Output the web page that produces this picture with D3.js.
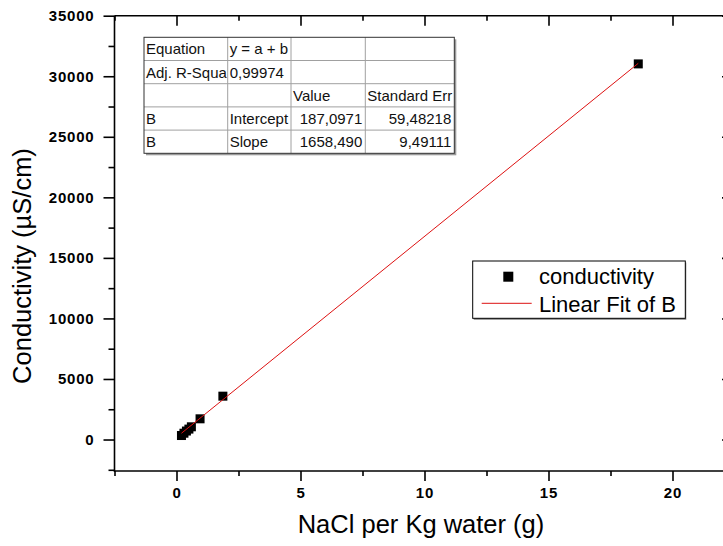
<!DOCTYPE html>
<html>
<head>
<meta charset="utf-8">
<script src="https://cdn.jsdelivr.net/npm/d3@7"></script>
<style>
  html, body { margin: 0; padding: 0; background: #fff; }
  svg { display: block; }
</style>
</head>
<body>
<svg id="chart" width="723" height="546"></svg>
<script>
// Measured NaCl concentration vs. conductivity
const naclGrams   = [0.2, 0.3, 0.4, 0.5, 0.6, 0.95, 1.87, 18.62];
const conductance = [330, 520, 700, 860, 1050, 1710, 3580, 31020];

// Linear fit parameters (y = a + b*x)
const fitIntercept = 187.0971;
const fitSlope = 1658.490;

// Axis ticks
const xMajorTicks = [0, 5, 10, 15, 20];
const xMinorTicks = [-2.5, 2.5, 7.5, 12.5, 17.5, 22.5];
const yMajorTicks = [0, 5000, 10000, 15000, 20000, 25000, 30000, 35000];
const yMinorTicks = [-2500, 2500, 7500, 12500, 17500, 22500, 27500, 32500];

// Fit summary table
const tableRows = [
  ["Equation", "y = a + b", "", ""],
  ["Adj. R-Squa", "0,99974", "", ""],
  ["", "", "Value", "Standard Err"],
  ["B", "Intercept", "187,0971", "59,48218"],
  ["B", "Slope", "1658,490", "9,49111"]
];
const tableAlign = [
  ["start", "start", "start", "start"],
  ["start", "start", "start", "start"],
  ["start", "start", "start", "start"],
  ["start", "start", "end", "end"],
  ["start", "start", "end", "end"]
];

const legendLabels = ["conductivity", "Linear Fit of B"];

const svg = d3.select("#chart");

const plot = { left: 114.5, right: 734.5, top: 15.7, bottom: 471 };

const x = d3.scaleLinear().domain([-2.5, 22.5]).range([plot.left, plot.right]);
const y = d3.scaleLinear().domain([-2600, 35000]).range([plot.bottom, plot.top]);

const fontSans = "'Liberation Sans', Arial, sans-serif";
const axisStroke = 1.6;

// ---- axes ----
function styleAxis(g) {
  g.select(".domain").remove();
  g.selectAll("line").attr("stroke", "#000").attr("stroke-width", axisStroke);
}

// bottom
const gBottom = svg.append("g").attr("transform", `translate(0,${plot.bottom})`);
gBottom.call(d3.axisBottom(x).tickValues(xMajorTicks).tickSize(10).tickPadding(6).tickFormat(d3.format("d")))
  .call(styleAxis);
gBottom.selectAll("text")
  .attr("font-family", fontSans).attr("font-weight", "bold").attr("font-size", 15)
  .attr("letter-spacing", "0.8px").attr("fill", "#000");
svg.append("g").attr("transform", `translate(0,${plot.bottom})`)
  .call(d3.axisBottom(x).tickValues(xMinorTicks).tickSize(5).tickFormat(""))
  .call(styleAxis);

// top (mirror, inward ticks)
svg.append("g").attr("transform", `translate(0,${plot.top})`)
  .call(d3.axisBottom(x).tickValues(xMajorTicks).tickSize(10).tickFormat(""))
  .call(styleAxis);
svg.append("g").attr("transform", `translate(0,${plot.top})`)
  .call(d3.axisBottom(x).tickValues(xMinorTicks).tickSize(5).tickFormat(""))
  .call(styleAxis);

// left
const gLeft = svg.append("g").attr("transform", `translate(${plot.left},0)`);
gLeft.call(d3.axisLeft(y).tickValues(yMajorTicks).tickSize(11).tickPadding(9).tickFormat(d3.format("d")))
  .call(styleAxis);
gLeft.selectAll("text")
  .attr("font-family", fontSans).attr("font-weight", "bold").attr("font-size", 15)
  .attr("letter-spacing", "0.8px").attr("fill", "#000");
svg.append("g").attr("transform", `translate(${plot.left},0)`)
  .call(d3.axisLeft(y).tickValues(yMinorTicks).tickSize(6).tickFormat(""))
  .call(styleAxis);

// right (mirror, inward ticks)
svg.append("g").attr("transform", `translate(${plot.right},0)`)
  .call(d3.axisLeft(y).tickValues(yMajorTicks).tickSize(12.5).tickFormat(""))
  .call(styleAxis);

// frame lines
const frame = svg.append("g").attr("stroke", "#000").attr("stroke-width", axisStroke);
frame.append("line").attr("x1", plot.left).attr("x2", plot.right).attr("y1", plot.bottom).attr("y2", plot.bottom);
frame.append("line").attr("x1", plot.left).attr("x2", plot.right).attr("y1", plot.top).attr("y2", plot.top);
frame.append("line").attr("x1", plot.left).attr("x2", plot.left).attr("y1", plot.top).attr("y2", plot.bottom + 1);
frame.append("line").attr("x1", plot.right).attr("x2", plot.right).attr("y1", plot.top).attr("y2", plot.bottom);

// axis titles
svg.append("text")
  .attr("x", 421).attr("y", 533)
  .attr("text-anchor", "middle")
  .attr("font-family", fontSans).attr("font-size", 25.5)
  .text("NaCl per Kg water (g)");

svg.append("text")
  .attr("transform", `translate(31,${266}) rotate(-90)`)
  .attr("text-anchor", "middle")
  .attr("font-family", fontSans).attr("font-size", 25.5)
  .text("Conductivity (µS/cm)");

// ---- data points ----
const sq = 9;
svg.append("g").selectAll("rect")
  .data(naclGrams.map((v, i) => [v, conductance[i]]))
  .join("rect")
  .attr("x", d => x(d[0]) - sq / 2)
  .attr("y", d => y(d[1]) - sq / 2)
  .attr("width", sq).attr("height", sq)
  .attr("fill", "#000");

// ---- fit line, drawn over markers ----
const xExt = d3.extent(naclGrams);
svg.append("line")
  .attr("x1", x(xExt[0])).attr("y1", y(fitIntercept + fitSlope * xExt[0]))
  .attr("x2", x(xExt[1])).attr("y2", y(fitIntercept + fitSlope * xExt[1]))
  .attr("stroke", "#dd1111").attr("stroke-width", 1);

// ---- fit summary table ----
const colX = [144, 227.7, 291, 365.3, 454.3];
const rowY0 = 37.3, rowH = 23.2;
const tbl = svg.append("g");
const tW = colX[colX.length - 1] - colX[0];
const tH = rowH * tableRows.length;
// shadow
tbl.append("rect").attr("x", colX[0] + 2).attr("y", rowY0 + 2).attr("width", tW).attr("height", tH)
  .attr("fill", "#9a9a9a");
tbl.append("rect").attr("x", colX[0]).attr("y", rowY0).attr("width", tW).attr("height", tH)
  .attr("fill", "#fff");
// grid
for (let i = 1; i < tableRows.length; i++) {
  tbl.append("line").attr("x1", colX[0]).attr("x2", colX[colX.length - 1])
    .attr("y1", rowY0 + i * rowH).attr("y2", rowY0 + i * rowH)
    .attr("stroke", "#a0a0a0").attr("stroke-width", 1);
}
for (let j = 1; j < colX.length - 1; j++) {
  tbl.append("line").attr("x1", colX[j]).attr("x2", colX[j])
    .attr("y1", rowY0).attr("y2", rowY0 + tH)
    .attr("stroke", "#a0a0a0").attr("stroke-width", 1);
}
tbl.append("rect").attr("x", colX[0]).attr("y", rowY0).attr("width", tW).attr("height", tH)
  .attr("fill", "none").attr("stroke", "#333").attr("stroke-width", 1);

tableRows.forEach((row, i) => {
  row.forEach((cell, j) => {
    if (!cell) return;
    const clipId = `clip-${i}-${j}`;
    tbl.append("clipPath").attr("id", clipId).append("rect")
      .attr("x", colX[j]).attr("y", rowY0 + i * rowH)
      .attr("width", colX[j + 1] - colX[j] - 1).attr("height", rowH);
    const al = tableAlign[i][j];
    tbl.append("text")
      .attr("clip-path", `url(#${clipId})`)
      .attr("x", al === "end" ? colX[j + 1] - 3 : colX[j] + 2)
      .attr("y", rowY0 + i * rowH + 17)
      .attr("text-anchor", al)
      .attr("font-family", fontSans).attr("font-size", 15)
      .attr("fill", "#111")
      .text(cell);
  });
});

// ---- legend ----
const lg = svg.append("g");
const lx = 472.7, ly = 261, lw = 212.6, lh = 57.3;
lg.append("rect").attr("x", lx + 1).attr("y", ly + 1.5).attr("width", lw).attr("height", lh).attr("fill", "#888");
lg.append("rect").attr("x", lx).attr("y", ly).attr("width", lw).attr("height", lh)
  .attr("fill", "#fff").attr("stroke", "#000").attr("stroke-width", 1);
lg.append("rect").attr("x", 508.3 - 5).attr("y", 276.7 - 5).attr("width", 10).attr("height", 10).attr("fill", "#000");
lg.append("line").attr("x1", 481.7).attr("x2", 531.7).attr("y1", 303.3).attr("y2", 303.3)
  .attr("stroke", "#dd1111").attr("stroke-width", 1);
lg.selectAll("text.lab").data(legendLabels).join("text")
  .attr("class", "lab")
  .attr("x", 539).attr("y", (d, i) => i === 0 ? 283.5 : 311.7)
  .attr("font-family", fontSans).attr("font-size", 22)
  .attr("fill", "#000")
  .text(d => d);
</script>
</body>
</html>
